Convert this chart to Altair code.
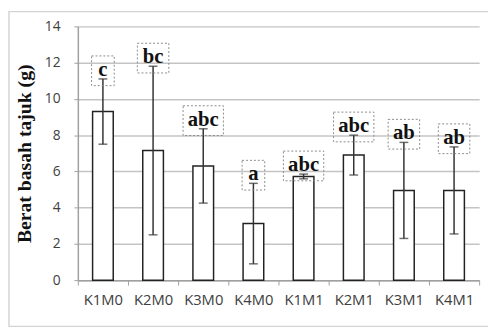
import altair as alt
import pandas as pd

categories = ["K1M0", "K2M0", "K3M0", "K4M0", "K1M1", "K2M1", "K3M1", "K4M1"]
means = [9.3, 7.15, 6.3, 3.12, 5.72, 6.9, 4.95, 4.95]
errors = [1.8, 4.65, 2.05, 2.22, 0.13, 1.1, 2.65, 2.4]
letters = ["c", "bc", "abc", "a", "abc", "abc", "ab", "ab"]
y_ticks = [0, 2, 4, 6, 8, 10, 12, 14]

df = pd.DataFrame({"cat": categories, "mean": means, "err": errors, "lab": letters})
df["lo"] = df["mean"] - df["err"]
df["hi"] = df["mean"] + df["err"]
df["lc"] = df["hi"] + 0.45
df["b0"] = df["lc"] - 0.82
df["b1"] = df["lc"] + 0.82
df["bw"] = df["lab"].str.len() * 9 + 14

W, H = 408, 258

xaxis = alt.Axis(labelAngle=0, labelFont="Open Sans", labelFontSize=15,
                 labelColor="#404040", labelPadding=8, tickBand="extent",
                 tickSize=5, tickColor="#a0a0a0", domainColor="#a0a0a0",
                 domainWidth=1.5, grid=False)
xscale = alt.Scale(paddingInner=0, paddingOuter=0)
yaxis = alt.Axis(values=y_ticks, labelFont="Open Sans", labelOverlap=False,
                 labelFontSize=14, labelColor="#404040", labelPadding=14,
                 tickSize=4, tickColor="#a0a0a0", domainColor="#a0a0a0",
                 domainWidth=1.5, gridColor="#c4c4c4", gridWidth=1.5,
                 titleFont="Liberation Serif", titleFontSize=20,
                 titleFontWeight="bold", titleColor="#111111", titlePadding=10)
yscale = alt.Scale(domain=[0, 14], nice=False)
ytitle = "Berat basah tajuk (g)"


def X():
    return alt.X("cat:N", sort=categories, title=None, scale=xscale, axis=xaxis)


def Y(field):
    return alt.Y(field, type="quantitative", scale=yscale, axis=yaxis, title=ytitle)


base = alt.Chart(df)

bars = base.mark_bar(size=21, fill="white", stroke="#222222", strokeWidth=1.5).encode(
    x=X(), y=Y("mean"))

rules = base.mark_rule(color="#333333", strokeWidth=1.5).encode(
    x=X(), y=Y("lo"), y2="hi:Q")
cap_lo = base.mark_tick(size=9, thickness=1.5, color="#333333").encode(
    x=X(), y=Y("lo"))
cap_hi = base.mark_tick(size=9, thickness=1.5, color="#333333").encode(
    x=X(), y=Y("hi"))

boxes = base.mark_bar(fill="white", fillOpacity=0, stroke="#8a8a8a", strokeWidth=1,
                      strokeDash=[2, 2]).encode(
    x=X(), y=Y("b0"), y2="b1:Q",
    size=alt.Size("bw:Q", scale=None, legend=None))

texts = base.mark_text(font="Liberation Serif", fontSize=21, fontWeight="bold",
                       color="#111111", baseline="middle", dy=-1).encode(
    x=X(), y=Y("lc"), text="lab:N")

frame = alt.Chart(alt.Data(values=[{"a": 1}])).mark_rect(
    fill="white", fillOpacity=0, stroke="#d4d4d4", strokeWidth=1.5).encode(
    x=alt.value(-70), x2=alt.value(430), y=alt.value(-15), y2=alt.value(305))

chart = alt.layer(frame, bars, rules, cap_lo, cap_hi, boxes, texts).properties(
    width=W, height=H,
    autosize=alt.AutoSizeParams(type="none"),
    padding={"left": 71, "top": 16, "right": 9, "bottom": 48},
    background="white",
).configure_view(stroke=None)

chart.save("out.html", embed_options={"renderer": "svg", "actions": False})
